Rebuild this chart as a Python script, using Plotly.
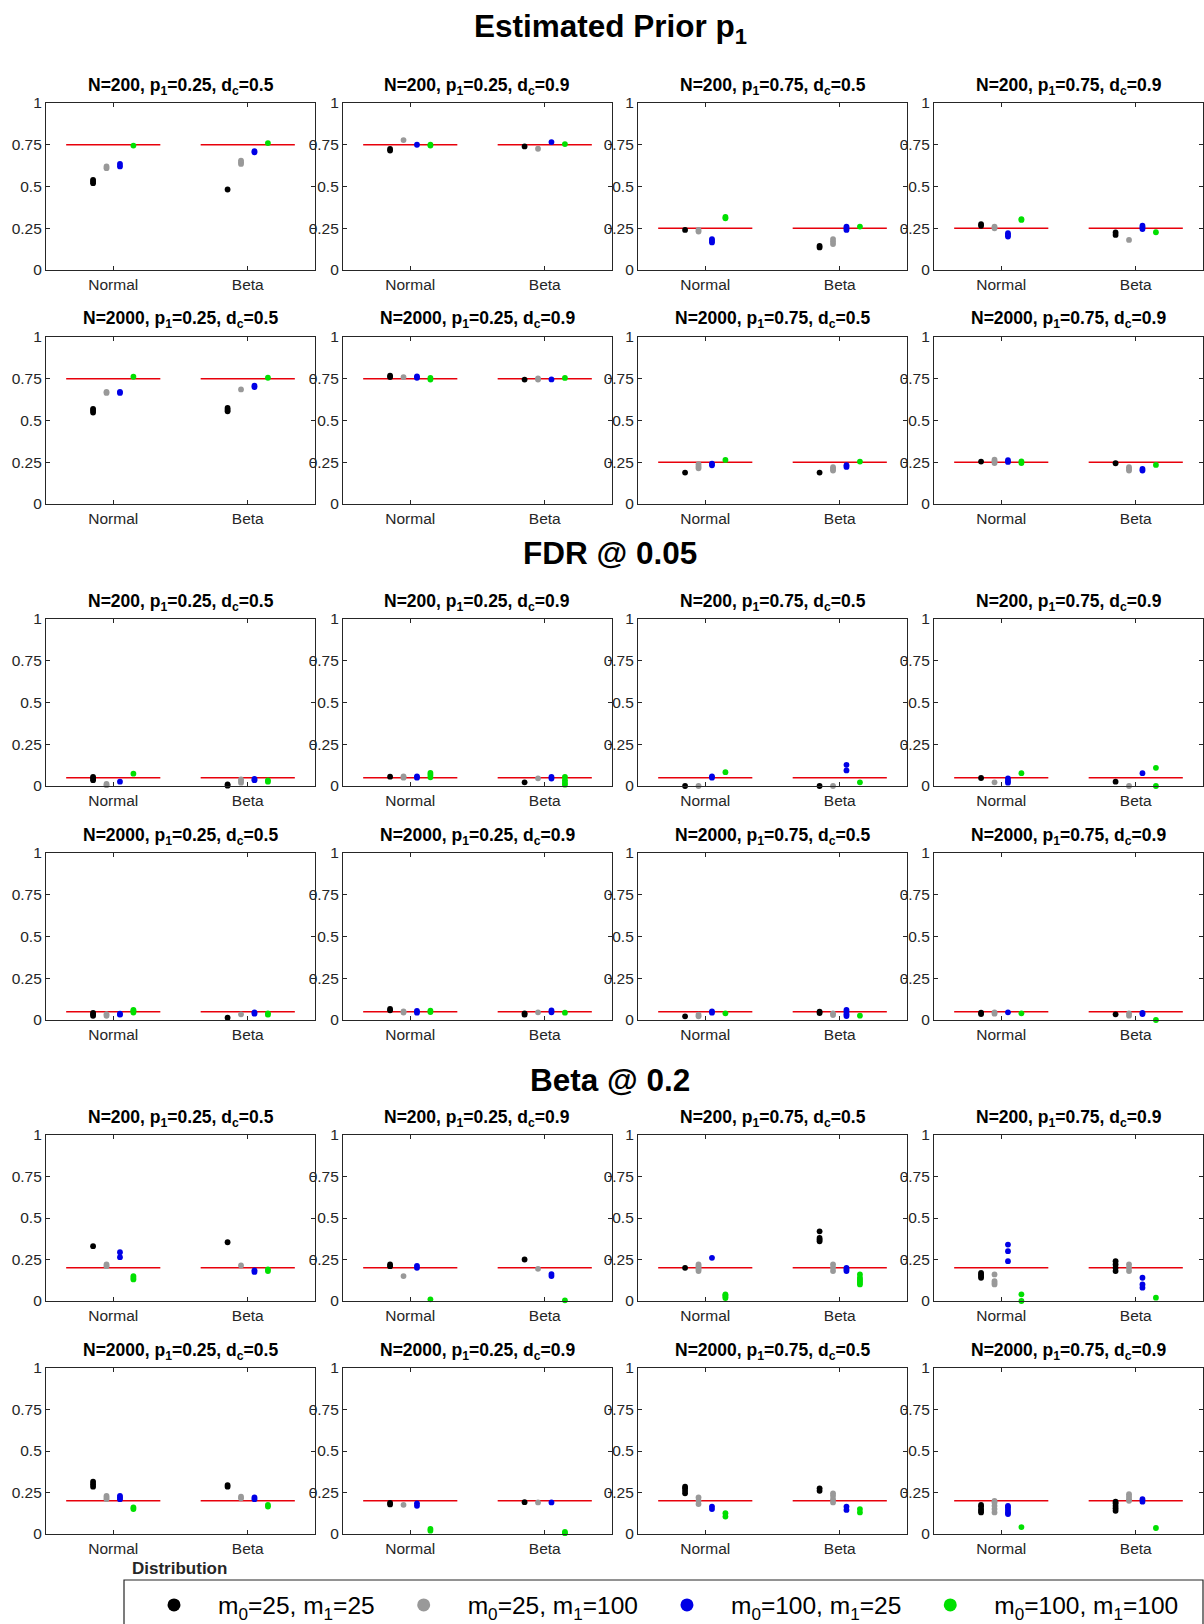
import plotly.graph_objects as go

# ---------------- data ----------------
categories = ["Normal", "Beta"]
group_names = [
    "m<sub>0</sub>=25, m<sub>1</sub>=25",
    "m<sub>0</sub>=25, m<sub>1</sub>=100",
    "m<sub>0</sub>=100, m<sub>1</sub>=25",
    "m<sub>0</sub>=100, m<sub>1</sub>=100",
]
section_titles = ["Estimated Prior p<sub>1</sub>", "FDR @ 0.05", "Beta @ 0.2"]
panel_titles = [
    "N=200, p<sub>1</sub>=0.25, d<sub>c</sub>=0.5",
    "N=200, p<sub>1</sub>=0.25, d<sub>c</sub>=0.9",
    "N=200, p<sub>1</sub>=0.75, d<sub>c</sub>=0.5",
    "N=200, p<sub>1</sub>=0.75, d<sub>c</sub>=0.9",
    "N=2000, p<sub>1</sub>=0.25, d<sub>c</sub>=0.5",
    "N=2000, p<sub>1</sub>=0.25, d<sub>c</sub>=0.9",
    "N=2000, p<sub>1</sub>=0.75, d<sub>c</sub>=0.5",
    "N=2000, p<sub>1</sub>=0.75, d<sub>c</sub>=0.9",
]
y_tickvals = [0, 0.25, 0.5, 0.75, 1]
y_ticktext = ["0", "0.25", "0.5", "0.75", "1"]

# reference (red line) values per panel
prior_targets = [0.75, 0.75, 0.25, 0.25, 0.75, 0.75, 0.25, 0.25]
fdr_targets = [0.05] * 8
beta_targets = [0.2] * 8

# each panel: {category: [black, gray, blue, green] value lists}
# --- Estimated prior p1 ---
prior_200_25_05 = {"Normal": [[0.52, 0.53, 0.54], [0.61, 0.62], [0.62, 0.635], [0.745]],
                   "Beta": [[0.482], [0.635, 0.645, 0.655], [0.705, 0.712], [0.76]]}
prior_200_25_09 = {"Normal": [[0.715, 0.725], [0.778], [0.75], [0.745, 0.75]],
                   "Beta": [[0.74], [0.726], [0.766], [0.754]]}
prior_200_75_05 = {"Normal": [[0.24], [0.23, 0.24], [0.165, 0.175, 0.185], [0.31, 0.318]],
                   "Beta": [[0.135, 0.145], [0.155, 0.17, 0.185], [0.24, 0.25, 0.26], [0.26]]}
prior_200_75_09 = {"Normal": [[0.265, 0.275], [0.25, 0.26], [0.2, 0.21, 0.22], [0.3, 0.305]],
                   "Beta": [[0.21, 0.225], [0.18], [0.245, 0.255, 0.265], [0.226]]}
prior_2000_25_05 = {"Normal": [[0.548, 0.56, 0.57], [0.665, 0.672], [0.665, 0.672], [0.762]],
                    "Beta": [[0.555, 0.565, 0.575], [0.686], [0.7, 0.708], [0.756]]}
prior_2000_25_09 = {"Normal": [[0.76, 0.768], [0.76], [0.756, 0.764], [0.745, 0.755]],
                    "Beta": [[0.745], [0.745, 0.752], [0.746], [0.755]]}
prior_2000_75_05 = {"Normal": [[0.188], [0.214, 0.225, 0.238], [0.232, 0.242], [0.264]],
                    "Beta": [[0.188], [0.2, 0.21, 0.22], [0.222, 0.232], [0.254]]}
prior_2000_75_09 = {"Normal": [[0.254], [0.245, 0.255, 0.265], [0.252, 0.262], [0.245, 0.255]],
                    "Beta": [[0.244], [0.2, 0.21, 0.22], [0.2, 0.21], [0.234]]}

# --- FDR @ 0.05 ---
fdr_200_25_05 = {"Normal": [[0.035, 0.045, 0.055], [0.005, 0.012], [0.026], [0.074]],
                 "Beta": [[0.002, 0.01], [0.02, 0.03, 0.04], [0.035, 0.042], [0.026, 0.034]]}
fdr_200_25_09 = {"Normal": [[0.056], [0.05, 0.058], [0.05, 0.058], [0.052, 0.066, 0.078]],
                 "Beta": [[0.022], [0.046], [0.045, 0.055], [0.008, 0.02, 0.035, 0.055]]}
fdr_200_75_05 = {"Normal": [[0.0], [0.0], [0.05, 0.058], [0.083]],
                 "Beta": [[0.0], [0.0], [0.093, 0.127], [0.022]]}
fdr_200_75_09 = {"Normal": [[0.048], [0.022], [0.02, 0.03, 0.045], [0.077]],
                 "Beta": [[0.026], [0.0], [0.077], [0.0, 0.109]]}
fdr_2000_25_05 = {"Normal": [[0.025, 0.035, 0.042], [0.025, 0.035], [0.032, 0.038], [0.045, 0.055, 0.06]],
                  "Beta": [[0.014], [0.034], [0.038, 0.046], [0.032, 0.04]]}
fdr_2000_25_09 = {"Normal": [[0.058, 0.066], [0.045, 0.052], [0.044, 0.054], [0.048, 0.056]],
                  "Beta": [[0.032, 0.04], [0.046], [0.046, 0.058], [0.044]]}
fdr_2000_75_05 = {"Normal": [[0.022], [0.022, 0.032], [0.044, 0.052], [0.04]],
                  "Beta": [[0.042, 0.05], [0.03, 0.04], [0.024, 0.035, 0.048, 0.06], [0.026]]}
fdr_2000_75_09 = {"Normal": [[0.036, 0.044], [0.038, 0.046], [0.046], [0.04]],
                  "Beta": [[0.034], [0.026, 0.04], [0.036, 0.042], [0.0]]}

# --- Beta @ 0.2 ---
beta_200_25_05 = {"Normal": [[0.33], [0.21, 0.22], [0.264, 0.294], [0.13, 0.14, 0.15]],
                  "Beta": [[0.354], [0.214], [0.175, 0.185], [0.18, 0.19]]}
beta_200_25_09 = {"Normal": [[0.21, 0.22], [0.15], [0.2, 0.212], [0.01]],
                  "Beta": [[0.25], [0.194], [0.15, 0.162], [0.004]]}
beta_200_75_05 = {"Normal": [[0.2], [0.18, 0.19, 0.2, 0.21, 0.22], [0.26], [0.018, 0.026, 0.034, 0.04]],
                  "Beta": [[0.36, 0.37, 0.38, 0.42], [0.18, 0.2, 0.22], [0.18, 0.19, 0.2],
                           [0.1, 0.11, 0.12, 0.13, 0.14, 0.16]]}
beta_200_75_09 = {"Normal": [[0.14, 0.15, 0.16, 0.17], [0.1, 0.11, 0.12, 0.16], [0.24, 0.3, 0.34], [0.0, 0.04]],
                  "Beta": [[0.18, 0.2, 0.22, 0.24], [0.18, 0.2, 0.22], [0.08, 0.1, 0.14], [0.02]]}
beta_2000_25_05 = {"Normal": [[0.285, 0.3, 0.315], [0.21, 0.22, 0.23], [0.21, 0.22, 0.23], [0.15, 0.16]],
                   "Beta": [[0.285, 0.295], [0.215, 0.225], [0.21, 0.22], [0.165, 0.175]]}
beta_2000_25_09 = {"Normal": [[0.178, 0.188], [0.176], [0.17, 0.185], [0.02, 0.03]],
                   "Beta": [[0.192], [0.19], [0.19], [0.005, 0.012]]}
beta_2000_75_05 = {"Normal": [[0.245, 0.26, 0.275, 0.285], [0.18, 0.2, 0.22], [0.15, 0.165], [0.105, 0.125]],
                   "Beta": [[0.26, 0.275], [0.19, 0.21, 0.23, 0.245], [0.145, 0.165], [0.13, 0.15]]}
beta_2000_75_09 = {"Normal": [[0.13, 0.14, 0.15, 0.165, 0.175], [0.13, 0.15, 0.17, 0.19, 0.2],
                              [0.12, 0.13, 0.145, 0.16, 0.17], [0.042]],
                   "Beta": [[0.14, 0.155, 0.17, 0.185, 0.195], [0.2, 0.21, 0.225, 0.24], [0.195, 0.21], [0.036]]}

sections = [
    ([prior_200_25_05, prior_200_25_09, prior_200_75_05, prior_200_75_09,
      prior_2000_25_05, prior_2000_25_09, prior_2000_75_05, prior_2000_75_09], prior_targets),
    ([fdr_200_25_05, fdr_200_25_09, fdr_200_75_05, fdr_200_75_09,
      fdr_2000_25_05, fdr_2000_25_09, fdr_2000_75_05, fdr_2000_75_09], fdr_targets),
    ([beta_200_25_05, beta_200_25_09, beta_200_75_05, beta_200_75_09,
      beta_2000_25_05, beta_2000_25_09, beta_2000_75_05, beta_2000_75_09], beta_targets),
]

# ---------------- style / layout ----------------
W, H = 1204, 1624
FONT = "Liberation Sans, Arial, Helvetica, sans-serif"
AX_COLOR = "#262626"
group_colors = ["#000000", "#999999", "#0000E6", "#00E000"]
group_offsets = [-0.15, -0.05, 0.05, 0.15]
line_half = 0.35
col_px = [(46, 315), (343, 612), (638, 907), (934, 1203)]
row_px = [(103, 270), (337, 504), (619, 786), (853, 1020), (1135, 1301), (1368, 1534)]
section_title_y = [28, 553, 1080]


def px_x(p):
    return p / W


def px_y(p):
    return 1 - p / H


fig = go.Figure()
layout = dict(
    width=W, height=H, margin=dict(l=0, r=0, t=0, b=0, autoexpand=False),
    paper_bgcolor="white", plot_bgcolor="white",
    font=dict(family=FONT, color=AX_COLOR),
    showlegend=True,
)
annotations = []

k = 0
for s, (panels, targets) in enumerate(sections):
    for p, panel in enumerate(panels):
        r = s * 2 + p // 4
        c = p % 4
        k += 1
        xa = "x" if k == 1 else f"x{k}"
        ya = "y" if k == 1 else f"y{k}"
        x0, x1 = col_px[c]
        t0, t1 = row_px[r]
        layout["xaxis" if k == 1 else f"xaxis{k}"] = dict(
            domain=[px_x(x0), px_x(x1)], anchor=ya, range=[0.5, 2.5],
            tickvals=[1, 2], ticktext=categories, ticks="inside", ticklen=4,
            tickcolor=AX_COLOR, showline=True, linecolor=AX_COLOR, linewidth=1.2,
            mirror="ticks", showgrid=False, zeroline=False,
            tickfont=dict(size=15.5, color=AX_COLOR, family=FONT),
        )
        layout["yaxis" if k == 1 else f"yaxis{k}"] = dict(
            domain=[px_y(t1), px_y(t0)], anchor=xa, range=[0, 1],
            tickvals=y_tickvals, ticktext=y_ticktext, ticks="inside", ticklen=4,
            tickcolor=AX_COLOR, showline=True, linecolor=AX_COLOR, linewidth=1.2,
            mirror="ticks", showgrid=False, zeroline=False,
            tickfont=dict(size=15.5, color=AX_COLOR, family=FONT),
        )
        # reference lines
        for ci, cat in enumerate(categories):
            fig.add_trace(go.Scatter(
                x=[ci + 1 - line_half, ci + 1 + line_half], y=[targets[p], targets[p]],
                mode="lines", line=dict(color="#E8000B", width=1.5),
                xaxis=xa, yaxis=ya, showlegend=False, hoverinfo="skip"))
        # dots
        for g in range(4):
            xs, ys = [], []
            for ci, cat in enumerate(categories):
                for v in panel[cat][g]:
                    xs.append(ci + 1 + group_offsets[g])
                    ys.append(v)
            fig.add_trace(go.Scatter(
                x=xs, y=ys, mode="markers", cliponaxis=False,
                marker=dict(color=group_colors[g], size=5.8, line=dict(width=0)),
                xaxis=xa, yaxis=ya, showlegend=False, name=group_names[g]))
        annotations.append(dict(
            text=f"<b>{panel_titles[p]}</b>", xref="paper", yref="paper",
            x=px_x((x0 + x1) / 2), y=px_y(t0 - 17), xanchor="center", yanchor="middle",
            showarrow=False, font=dict(size=17.5, color="#000000", family=FONT)))
    annotations.append(dict(
        text=f"<b>{section_titles[s]}</b>", xref="paper", yref="paper",
        x=px_x(610), y=px_y(section_title_y[s]), xanchor="center", yanchor="middle",
        showarrow=False, font=dict(size=31.5, color="#000000", family=FONT)))

# legend-only traces
for g in range(4):
    fig.add_trace(go.Scatter(
        x=[None], y=[None], mode="markers", name=group_names[g],
        marker=dict(color=group_colors[g], size=13), showlegend=True))

annotations.append(dict(
    text="<b>Distribution</b>", xref="paper", yref="paper",
    x=px_x(130), y=px_y(1568), xanchor="left", yanchor="middle",
    showarrow=False, font=dict(size=17, color=AX_COLOR, family=FONT)))

layout["annotations"] = annotations
layout["shapes"] = [dict(
    type="rect", xref="paper", yref="paper",
    x0=px_x(124), x1=px_x(1203), y0=px_y(1640), y1=px_y(1580),
    line=dict(color=AX_COLOR, width=1.2), fillcolor="rgba(0,0,0,0)")]
layout["legend"] = dict(
    orientation="h", x=px_x(130), y=px_y(1605), xanchor="left", yanchor="middle",
    bgcolor="rgba(0,0,0,0)", borderwidth=0,
    font=dict(size=24.5, color="#000000", family=FONT),
    itemwidth=78, itemsizing="trace",
)

fig.update_layout(**layout)
fig.write_html("out.html")
